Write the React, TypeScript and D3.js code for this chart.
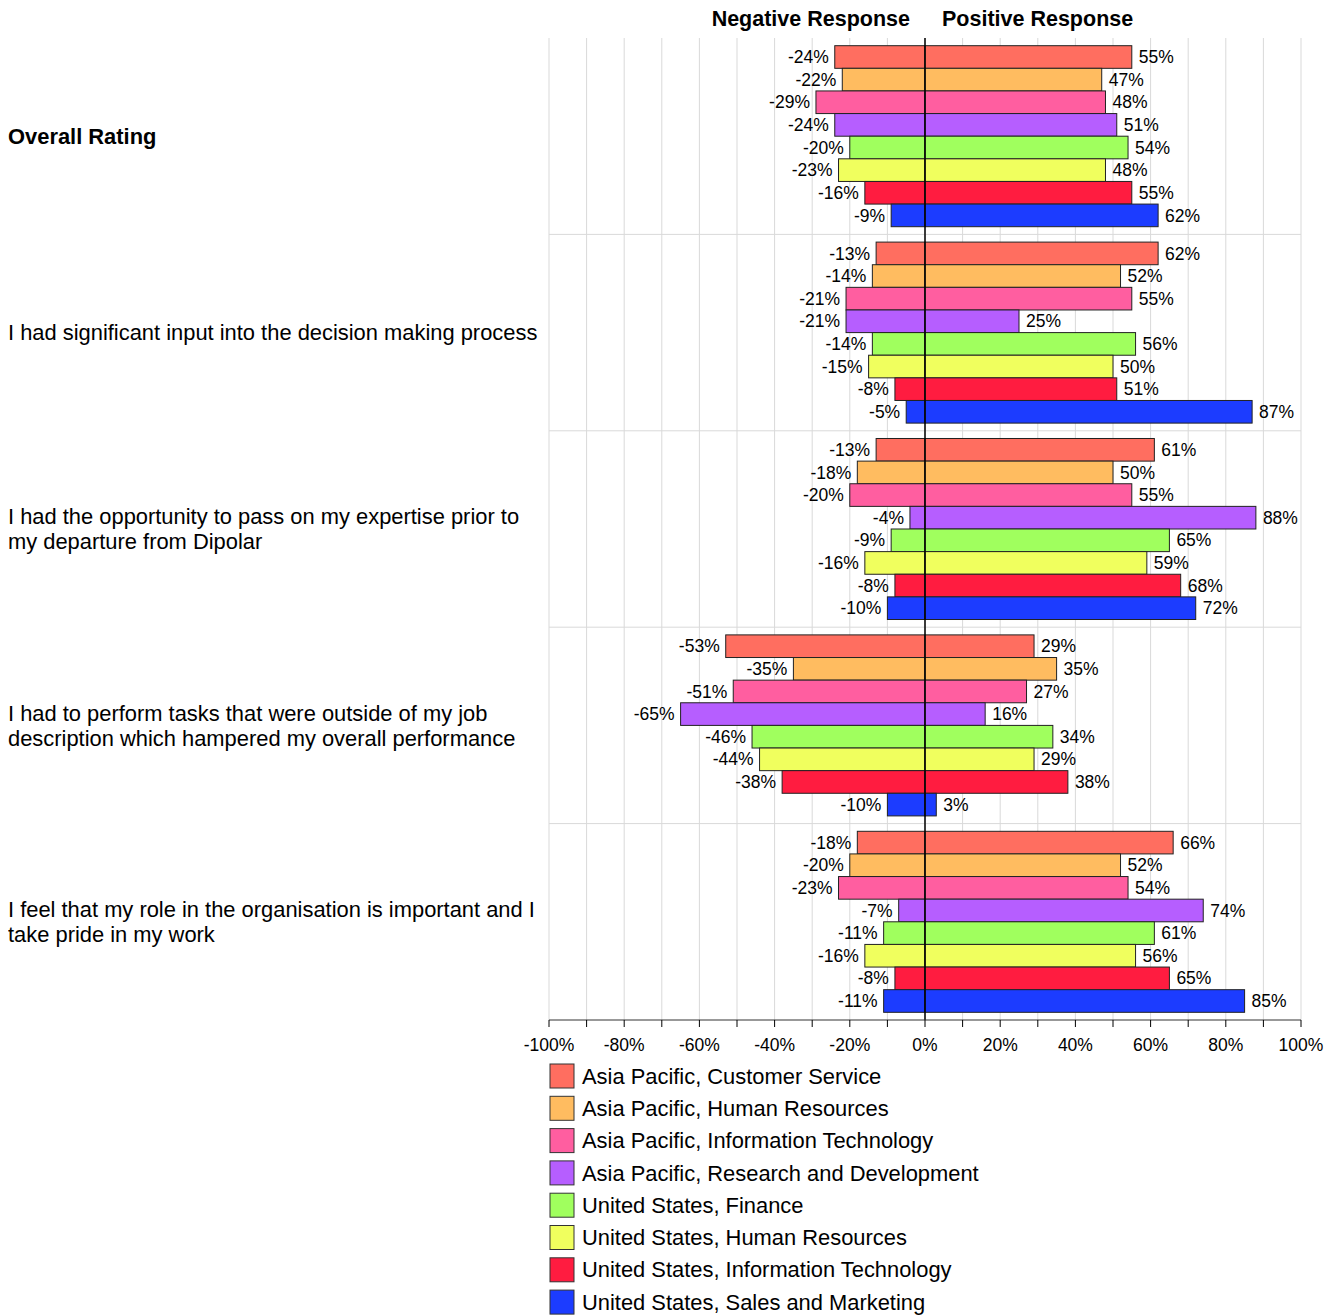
import React from "react";
import * as d3 from "d3";

const categories: string[][] = [
  ["Overall Rating"],
  ["I had significant input into the decision making process"],
  ["I had the opportunity to pass on my expertise prior to", "my departure from Dipolar"],
  ["I had to perform tasks that were outside of my job", "description which hampered my overall performance"],
  ["I feel that my role in the organisation is important and I", "take pride in my work"],
];

const seriesNames = [
  "Asia Pacific, Customer Service",
  "Asia Pacific, Human Resources",
  "Asia Pacific, Information Technology",
  "Asia Pacific, Research and Development",
  "United States, Finance",
  "United States, Human Resources",
  "United States, Information Technology",
  "United States, Sales and Marketing",
];

const colors = ["#FF6E60", "#FFBC60", "#FF5EA0", "#B65EFF", "#A0FF5E", "#F0FF5E", "#FF1C40", "#1C3CFF"];

// rows = categories, columns = series
const negative: number[][] = [
  [-24, -22, -29, -24, -20, -23, -16, -9],
  [-13, -14, -21, -21, -14, -15, -8, -5],
  [-13, -18, -20, -4, -9, -16, -8, -10],
  [-53, -35, -51, -65, -46, -44, -38, -10],
  [-18, -20, -23, -7, -11, -16, -8, -11],
];
const positive: number[][] = [
  [55, 47, 48, 51, 54, 48, 55, 62],
  [62, 52, 55, 25, 56, 50, 51, 87],
  [61, 50, 55, 88, 65, 59, 68, 72],
  [29, 35, 27, 16, 34, 29, 38, 3],
  [66, 52, 54, 74, 61, 56, 65, 85],
];

const xTicks = [-100, -80, -60, -40, -20, 0, 20, 40, 60, 80, 100];

const W = 1324;
const H = 1308;
const left = 541;
const right = 1293;
const top = 30;
const bottom = 1012;
const font = "'Liberation Sans', Arial, sans-serif";

export default function App() {
  const x = d3.scaleLinear().domain([-100, 100]).range([left, right]);
  const yCat = d3.scaleBand<number>().domain(d3.range(categories.length)).range([top, bottom]).paddingInner(0).paddingOuter(0);
  const ySer = d3.scaleBand<number>().domain(d3.range(seriesNames.length)).range([0, yCat.bandwidth()]).paddingInner(0).paddingOuter(0.34);
  const grid = d3.range(-100, 101, 10);
  const fmt = (v: number) => `${v}%`;

  return (
    <svg width={W} height={H} style={{ display: "block", fontFamily: font }}>
      <text x={x(0) - 15} y={18} textAnchor="end" fontSize={21.5} fontWeight="bold" fill="#000">Negative Response</text>
      <text x={x(0) + 17} y={18} textAnchor="start" fontSize={21.5} fontWeight="bold" fill="#000">Positive Response</text>

      {grid.map((g) => (
        <line key={"g" + g} x1={x(g)} x2={x(g)} y1={top} y2={bottom} stroke="#d9d9d9" strokeWidth={1} />
      ))}
      {categories.map((_, i) =>
        i > 0 ? (
          <line key={"h" + i} x1={left} x2={right} y1={yCat(i)!} y2={yCat(i)!} stroke="#d9d9d9" strokeWidth={1} />
        ) : null
      )}

      {categories.map((lines, ci) => {
        const cy = yCat(ci)! + yCat.bandwidth() / 2;
        const lh = 25;
        const start = cy - ((lines.length - 1) * lh) / 2;
        return (
          <text key={"c" + ci} x={0} fontSize={21.9} fontWeight={ci === 0 ? "bold" : "normal"} fill="#000">
            {lines.map((l, li) => (
              <tspan key={li} x={0} y={start + li * lh} dy="0.35em">{l}</tspan>
            ))}
          </text>
        );
      })}

      {categories.map((_, ci) =>
        seriesNames.map((_, si) => {
          const y0 = yCat(ci)! + ySer(si)!;
          const h = ySer.bandwidth();
          const nv = negative[ci][si];
          const pv = positive[ci][si];
          return (
            <g key={`b${ci}-${si}`}>
              <rect x={x(nv)} y={y0} width={x(0) - x(nv)} height={h} fill={colors[si]} stroke="#222" strokeWidth={1} />
              <rect x={x(0)} y={y0} width={x(pv) - x(0)} height={h} fill={colors[si]} stroke="#222" strokeWidth={1} />
              <text x={x(nv) - 6} y={y0 + h / 2} dy="0.35em" textAnchor="end" fontSize={17.5} fill="#000">{fmt(nv)}</text>
              <text x={x(pv) + 7} y={y0 + h / 2} dy="0.35em" textAnchor="start" fontSize={17.5} fill="#000">{fmt(pv)}</text>
            </g>
          );
        })
      )}

      <line x1={x(0)} x2={x(0)} y1={top} y2={bottom} stroke="#000" strokeWidth={1.5} />

      <line x1={left} x2={right} y1={bottom} y2={bottom} stroke="#333" strokeWidth={1} />
      {grid.map((g) => (
        <line key={"t" + g} x1={x(g)} x2={x(g)} y1={bottom} y2={bottom + 7} stroke="#000" strokeWidth={1} />
      ))}
      {xTicks.map((t) => (
        <text key={"tl" + t} x={x(t)} y={bottom + 31} textAnchor="middle" fontSize={17.5} fill="#000">{fmt(t)}</text>
      ))}

      {seriesNames.map((n, i) => {
        const ly = 1056 + i * 32.3;
        return (
          <g key={"l" + i}>
            <rect x={542} y={ly} width={24} height={24} fill={colors[i]} stroke="#333" strokeWidth={1} />
            <text x={574} y={ly + 12} dy="0.35em" fontSize={21.9} fill="#000">{n}</text>
          </g>
        );
      })}
    </svg>
  );
}
